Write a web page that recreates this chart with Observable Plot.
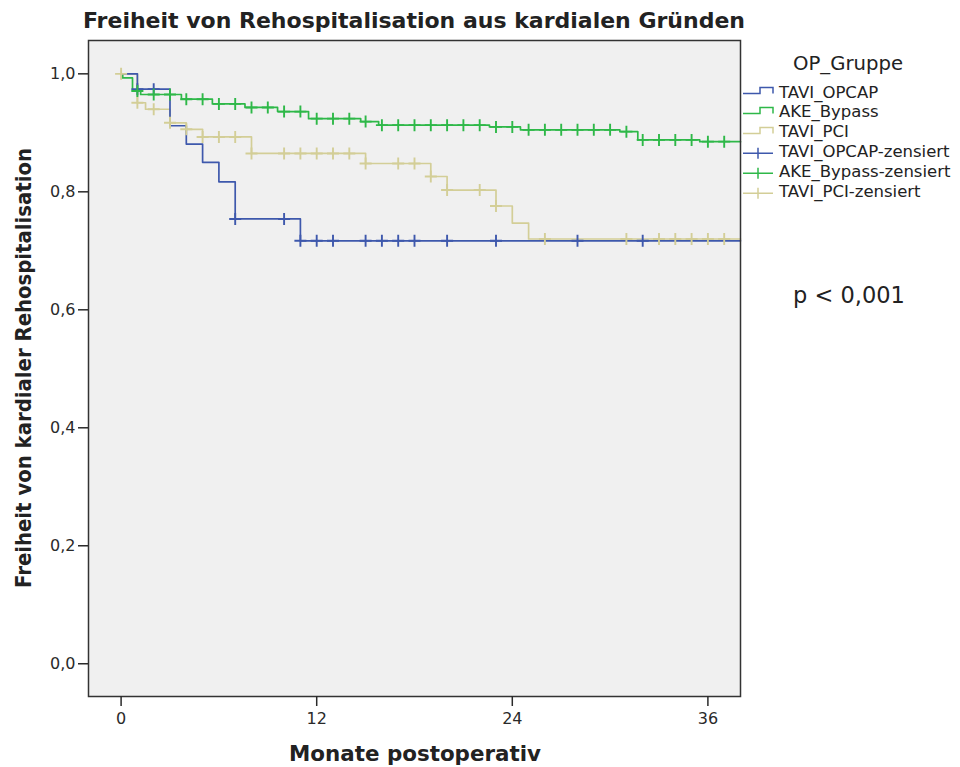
<!DOCTYPE html>
<html>
<head>
<meta charset="utf-8">
<script src="https://cdn.jsdelivr.net/npm/d3@7"></script>
<script src="https://cdn.jsdelivr.net/npm/@observablehq/plot@0.6"></script>
<style>
html, body { margin: 0; padding: 0; background: #fff; }
#chart svg { display: block; }
</style>
</head>
<body>
<div id="chart"></div>
<script>
// ---- data ----
const groups = ["TAVI_OPCAP", "AKE_Bypass", "TAVI_PCI"];
const groupColors = ["#3e58ac", "#2eb848", "#d3ce97"];

// Kaplan-Meier step points (months, survival)
const opcapTime = [0, 1, 3, 4, 5, 6, 7, 11, 38];
const opcapSurv = [1.0, 0.974, 0.912, 0.881, 0.850, 0.817, 0.754, 0.717, 0.717];
const opcapCensored = [1, 2, 7, 10, 11, 12, 13, 15, 16, 17, 18, 20, 23, 28, 32];

const bypassTime = [0, 0.1, 0.7, 1.2, 3.7, 5.6, 7.6, 9.6, 11.5, 14.7, 15.8, 22.6, 24.5, 30.6, 31.7, 35.5, 38];
const bypassSurv = [1.0, 0.993, 0.971, 0.965, 0.957, 0.949, 0.943, 0.936, 0.924, 0.919, 0.913, 0.910, 0.905, 0.902, 0.888, 0.885, 0.885];
const bypassCensored = [1, 2, 3, 4, 5, 6, 7, 8, 9, 10, 11, 12, 13, 14, 15, 16, 17, 18, 19, 20, 21, 22, 23, 24, 25, 26, 27, 28, 29, 30, 31, 32, 33, 34, 35, 36, 37];

const pciTime = [0, 1, 1.5, 3, 4, 5, 8, 15, 19, 20, 23, 24, 25, 38];
const pciSurv = [1.0, 0.951, 0.940, 0.917, 0.906, 0.893, 0.865, 0.848, 0.826, 0.803, 0.776, 0.747, 0.720, 0.720];
const pciCensored = [0, 1, 2, 3, 4, 5, 6, 7, 8, 10, 11, 12, 13, 14, 15, 17, 18, 19, 20, 22, 23, 26, 31, 33, 34, 35, 36, 37];

const xTicks = [0, 12, 24, 36];
const yTicks = [0, 0.2, 0.4, 0.6, 0.8, 1.0];

const titleText = "Freiheit von Rehospitalisation aus kardialen Gründen";
const xLabel = "Monate postoperativ";
const yLabel = "Freiheit von kardialer Rehospitalisation";
const legendTitle = "OP_Gruppe";
const legendLabels = ["TAVI_OPCAP", "AKE_Bypass", "TAVI_PCI", "TAVI_OPCAP-zensiert", "AKE_Bypass-zensiert", "TAVI_PCI-zensiert"];
const pValueText = "p < 0,001";

// ---- build tables ----
const series = {
  TAVI_OPCAP: {time: opcapTime, surv: opcapSurv, cens: opcapCensored},
  AKE_Bypass: {time: bypassTime, surv: bypassSurv, cens: bypassCensored},
  TAVI_PCI: {time: pciTime, surv: pciSurv, cens: pciCensored}
};
function survAt(s, t) {
  let v = s.surv[0];
  for (let i = 0; i < s.time.length; i++) if (s.time[i] <= t) v = s.surv[i];
  return v;
}
const lineOrder = ["TAVI_PCI", "AKE_Bypass", "TAVI_OPCAP"];
const steps = [];
for (const g of lineOrder) {
  const s = series[g];
  s.time.forEach((t, i) => steps.push({group: g, t, s: s.surv[i]}));
}
const censOrder = ["TAVI_PCI", "TAVI_OPCAP", "AKE_Bypass"];
const censored = [];
for (const g of censOrder) {
  const s = series[g];
  s.cens.forEach(t => censored.push({group: g, t, s: survAt(s, t)}));
}

const crossSymbol = {
  draw(context, size) {
    const r = Math.sqrt(size / Math.PI);
    context.moveTo(-r, 0); context.lineTo(r, 0);
    context.moveTo(0, -r); context.lineTo(0, r);
  }
};

const svg = Plot.plot({
  width: 960,
  height: 767,
  marginLeft: 88,
  marginRight: 220,
  marginTop: 40,
  marginBottom: 71,
  style: {fontFamily: "DejaVu Sans", fontSize: "16px", color: "#2a2a2a", background: "#fff"},
  x: {domain: [-2, 38]},
  y: {domain: [-0.0555, 1.0565]},
  color: {domain: groups, range: groupColors},
  marks: [
    Plot.frame({fill: "#f0f0f0"}),
    Plot.line(steps, {x: "t", y: "s", z: "group", stroke: "group", curve: "step-after", strokeWidth: 1.7}),
    Plot.dot(censored, {x: "t", y: "s", stroke: "group", fill: "none", symbol: crossSymbol, r: 6, strokeWidth: 1.9}),
    Plot.frame({stroke: "#333", strokeWidth: 1.5}),
    Plot.axisY({ticks: yTicks, tickFormat: d => d.toFixed(1).replace(".", ","), tickSize: 10, tickPadding: 3, label: null, strokeWidth: 1.5, fontSize: 16}),
    Plot.axisX({ticks: xTicks, tickFormat: d => String(d), tickSize: 10, tickPadding: 6, label: null, strokeWidth: 1.5, fontSize: 16})
  ]
});

const sel = d3.select(svg);
const font = "DejaVu Sans";

sel.append("text")
  .attr("x", 83).attr("y", 28).attr("text-anchor", "start")
  .attr("font-family", font).attr("font-weight", "bold").attr("font-size", 22)
  .attr("textLength", 662).attr("lengthAdjust", "spacingAndGlyphs")
  .attr("fill", "#222").text(titleText);

sel.append("text")
  .attr("x", 415).attr("y", 761).attr("text-anchor", "middle")
  .attr("font-family", font).attr("font-weight", "bold").attr("font-size", 22)
  .attr("textLength", 252).attr("lengthAdjust", "spacingAndGlyphs")
  .attr("fill", "#222").text(xLabel);

sel.append("text")
  .attr("transform", "translate(31,368) rotate(-90)").attr("text-anchor", "middle")
  .attr("font-family", font).attr("font-weight", "bold").attr("font-size", 21)
  .attr("textLength", 440).attr("lengthAdjust", "spacingAndGlyphs")
  .attr("fill", "#222").text(yLabel);

sel.append("text")
  .attr("x", 793).attr("y", 69.5).attr("text-anchor", "start")
  .attr("font-family", font).attr("font-size", 19)
  .attr("textLength", 110).attr("lengthAdjust", "spacingAndGlyphs")
  .attr("fill", "#222").text(legendTitle);

const lg = sel.append("g");
legendLabels.forEach((lab, i) => {
  const b = 97.5 + i * 19.95;
  const col = groupColors[i % 3];
  if (i < 3) {
    lg.append("path")
      .attr("d", `M743,${b - 4}H760V${b - 10}H773V${b - 4}`)
      .attr("fill", "none").attr("stroke", col).attr("stroke-width", 1.5);
  } else {
    lg.append("path")
      .attr("d", `M743,${b - 4}H773M758,${b - 9.5}V${b + 1.5}`)
      .attr("fill", "none").attr("stroke", col).attr("stroke-width", 1.5);
  }
  lg.append("text")
    .attr("x", 779).attr("y", b).attr("text-anchor", "start")
    .attr("font-family", font).attr("font-size", 16.5)
    .attr("fill", "#222").text(lab);
});

sel.append("text")
  .attr("x", 793).attr("y", 303).attr("text-anchor", "start")
  .attr("font-family", font).attr("font-size", 22.5)
  .attr("fill", "#222").text(pValueText);

document.getElementById("chart").appendChild(svg);
</script>
</body>
</html>
